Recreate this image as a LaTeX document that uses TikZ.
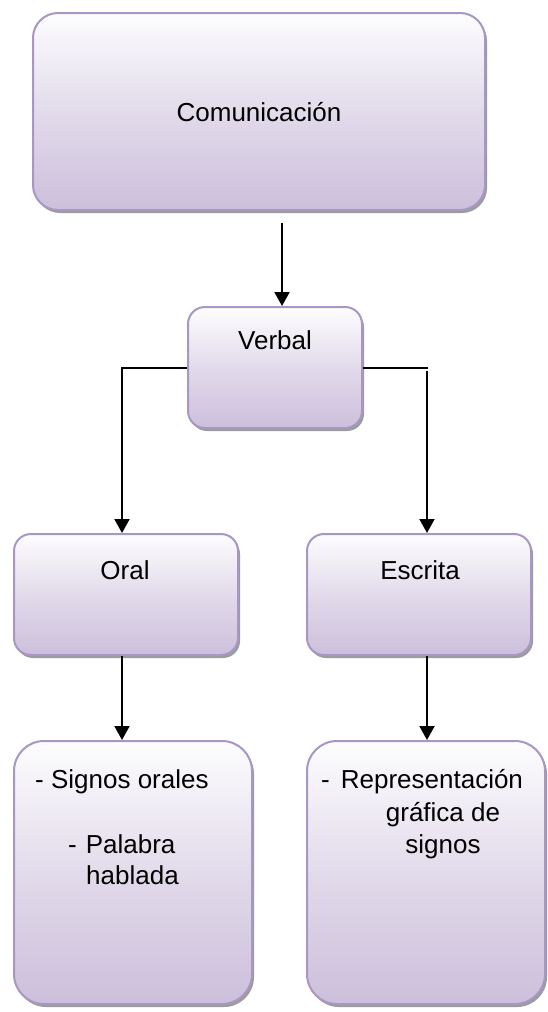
\documentclass[tikz,border=0pt]{standalone}
\usepackage{fontspec}
\setmainfont{Liberation Sans}
\usetikzlibrary{arrows.meta,shadows}
\definecolor{lavb}{RGB}{204,191,219}
\definecolor{lavt}{RGB}{253,253,254}
\definecolor{lavd}{RGB}{168,150,196}
\definecolor{shd}{RGB}{155,155,160}
\tikzset{
  box/.style={rectangle, draw=lavd, line width=2pt, top color=lavt, bottom color=lavb,
    middle color=lavb!55!lavt,
    inner sep=0pt, general shadow={fill=shd, shadow xshift=2pt, shadow yshift=-3pt}},
  lbl/.style={font=\fontsize{26}{32}\selectfont, inner sep=0pt, anchor=base},
  conn/.style={line width=2pt, draw=black},
  arr/.style={conn, -{Triangle[width=15pt,length=14pt]}},
}
\begin{document}
\begin{tikzpicture}[x=1pt,y=1pt]
\useasboundingbox (0,0) rectangle (548,-1012);
\fill[white] (0,0) rectangle (548,-1012);

\node[box, rounded corners=25pt, minimum width=452pt, minimum height=197pt] (com) at (259,-111.5) {};
\node[box, rounded corners=17pt, minimum width=174pt, minimum height=121pt] (verb) at (275,-367.5) {};
\node[box, rounded corners=17pt, minimum width=224pt, minimum height=121pt] (oral) at (126,-594.5) {};
\node[box, rounded corners=17pt, minimum width=224pt, minimum height=121pt] (esc) at (419,-594.5) {};
\node[box, rounded corners=30pt, minimum width=238pt, minimum height=263pt] (sig) at (133,-872.5) {};
\node[box, rounded corners=30pt, minimum width=238pt, minimum height=263pt] (rep) at (426,-872.5) {};

\node[lbl] (comt) at (259,-121) {Comunicación};
\node[lbl] (verbt) at (275,-349) {Verbal};
\node[lbl] (oralt) at (125,-579) {Oral};
\node[lbl] (esct) at (420,-579) {Escrita};
\node[lbl, anchor=base west] (sig1) at (35,-788) {- Signos orales};
\node[lbl, anchor=base west] (sig2) at (68,-853) {-\hspace{9pt}Palabra};
\node[lbl, anchor=base west] (sig3) at (86,-884) {hablada};
\node[lbl, anchor=base west] (rep1) at (321,-788) {-\hspace{11pt}Representación};
\node[lbl] (rep2) at (443,-821) {gráfica de};
\node[lbl] (rep3) at (443,-853) {signos};

\coordinate (s1) at (282,-223);
\draw[arr] (s1) -- (s1 |- verb.north);
\draw[arr] (verb.west) -| ([xshift=-4pt]oral.north);
\coordinate (r1) at (428,-367.5);
\draw[conn] (verb.east) -- (r1);
\coordinate (r2) at (427,-370.5);
\draw[arr] (r2) -- (r2 |- esc.north);
\draw[arr] ([xshift=-4pt]oral.south) -- ([xshift=-4pt]oral.south |- sig.north);
\draw[arr] ([xshift=8pt]esc.south) -- ([xshift=8pt]esc.south |- rep.north);
\end{tikzpicture}
\end{document}
